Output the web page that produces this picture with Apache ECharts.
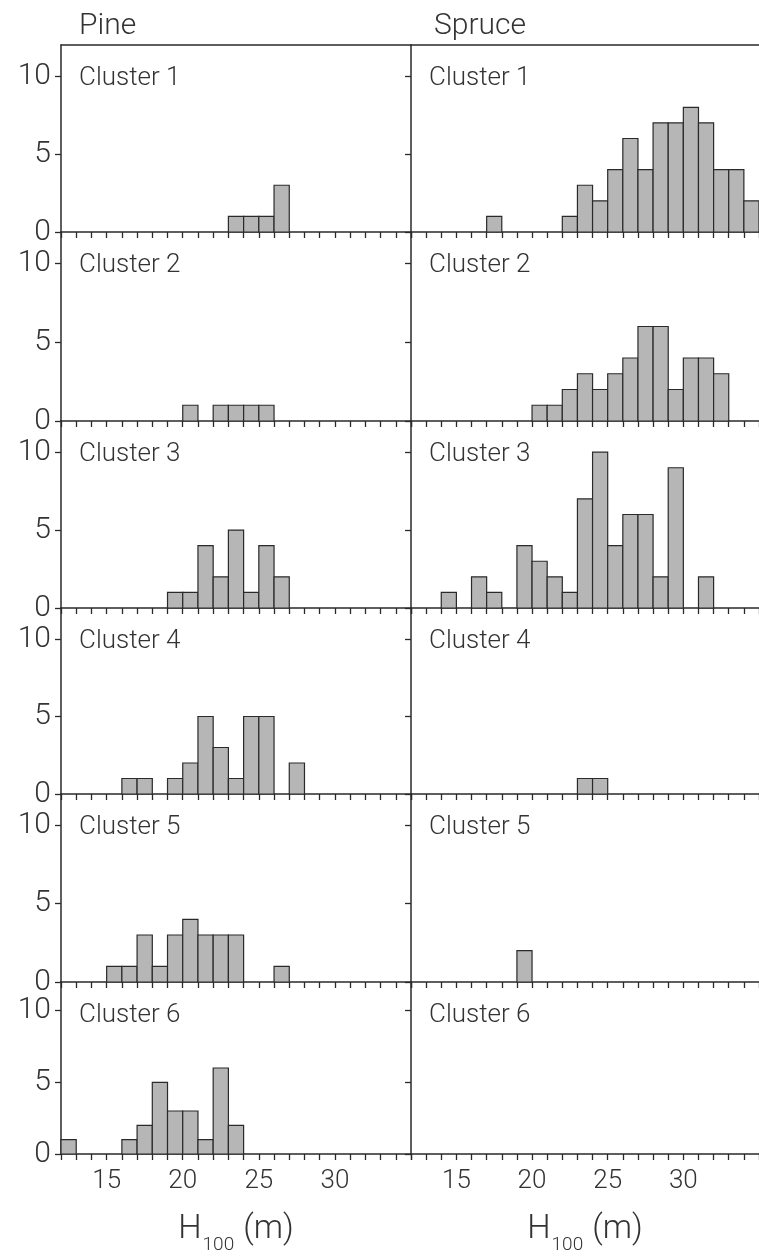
<!DOCTYPE html>
<html>
<head>
<meta charset="utf-8">
<script src="https://cdn.jsdelivr.net/npm/echarts@6/dist/echarts.min.js"></script>
<style>
  html, body { margin: 0; padding: 0; background: #ffffff; }
  #chart { width: 759px; height: 1256px; }
</style>
</head>
<body>
<div id="chart"></div>
<script>
// Height classes (lower edge of each 1 m bin, H100 in metres)
const binStarts = [12, 13, 14, 15, 16, 17, 18, 19, 20, 21, 22, 23, 24, 25, 26, 27, 28, 29, 30, 31, 32, 33, 34];

const speciesNames = ['Pine', 'Spruce'];
const clusterNames = ['Cluster 1', 'Cluster 2', 'Cluster 3', 'Cluster 4', 'Cluster 5', 'Cluster 6'];

// Number of stands per height class, pine
const pineCluster1 = [0, 0, 0, 0, 0, 0, 0, 0, 0, 0, 0, 1, 1, 1, 3, 0, 0, 0, 0, 0, 0, 0, 0];
const pineCluster2 = [0, 0, 0, 0, 0, 0, 0, 0, 1, 0, 1, 1, 1, 1, 0, 0, 0, 0, 0, 0, 0, 0, 0];
const pineCluster3 = [0, 0, 0, 0, 0, 0, 0, 1, 1, 4, 2, 5, 1, 4, 2, 0, 0, 0, 0, 0, 0, 0, 0];
const pineCluster4 = [0, 0, 0, 0, 1, 1, 0, 1, 2, 5, 3, 1, 5, 5, 0, 2, 0, 0, 0, 0, 0, 0, 0];
const pineCluster5 = [0, 0, 0, 1, 1, 3, 1, 3, 4, 3, 3, 3, 0, 0, 1, 0, 0, 0, 0, 0, 0, 0, 0];
const pineCluster6 = [1, 0, 0, 0, 1, 2, 5, 3, 3, 1, 6, 2, 0, 0, 0, 0, 0, 0, 0, 0, 0, 0, 0];

// Number of stands per height class, spruce
const spruceCluster1 = [0, 0, 0, 0, 0, 1, 0, 0, 0, 0, 1, 3, 2, 4, 6, 4, 7, 7, 8, 7, 4, 4, 2];
const spruceCluster2 = [0, 0, 0, 0, 0, 0, 0, 0, 1, 1, 2, 3, 2, 3, 4, 6, 6, 2, 4, 4, 3, 0, 0];
const spruceCluster3 = [0, 0, 1, 0, 2, 1, 0, 4, 3, 2, 1, 7, 10, 4, 6, 6, 2, 9, 0, 2, 0, 0, 0];
const spruceCluster4 = [0, 0, 0, 0, 0, 0, 0, 0, 0, 0, 0, 1, 1, 0, 0, 0, 0, 0, 0, 0, 0, 0, 0];
const spruceCluster5 = [0, 0, 0, 0, 0, 0, 0, 2, 0, 0, 0, 0, 0, 0, 0, 0, 0, 0, 0, 0, 0, 0, 0];
const spruceCluster6 = [0, 0, 0, 0, 0, 0, 0, 0, 0, 0, 0, 0, 0, 0, 0, 0, 0, 0, 0, 0, 0, 0, 0];

// Axis ticks
const xTickLabels = [15, 20, 25, 30];
const yTickValues = [0, 5, 10];
const xMin = 12, xMax = 35, yMax = 12;

const pineData = [pineCluster1, pineCluster2, pineCluster3, pineCluster4, pineCluster5, pineCluster6];
const spruceData = [spruceCluster1, spruceCluster2, spruceCluster3, spruceCluster4, spruceCluster5, spruceCluster6];
const columns = [pineData, spruceData];

// Panel layout
const colLeft = [61, 411];
const colWidth = 350;
const rowEdges = [45, 232, 421, 608, 794, 982, 1171];

const FONT = 'Roboto, "Liberation Sans", sans-serif';
const INK = '#2a2a2a';
const TEXT = '#333333';
const FILL = '#b6b6b6';

const grid = [], xAxis = [], yAxis = [], series = [], title = [];

speciesNames.forEach((name, c) => {
  title.push({
    text: name, left: c === 0 ? 79 : 434, top: 11, padding: 0,
    textStyle: { fontFamily: FONT, fontWeight: 300, fontSize: 30, color: TEXT }
  });
});

columns.forEach((clusters, c) => {
  clusters.forEach((counts, r) => {
    const gi = grid.length;
    grid.push({
      left: colLeft[c], top: rowEdges[r], width: colWidth,
      height: rowEdges[r + 1] - rowEdges[r], containLabel: false
    });
    const isBottom = r === clusters.length - 1;
    xAxis.push({
      type: 'value', gridIndex: gi, min: xMin, max: xMax, interval: 1,
      position: 'bottom',
      axisLine: { show: true, onZero: false, lineStyle: { color: INK, width: 1.5 } },
      axisTick: { show: true, inside: false, length: 6, lineStyle: { color: INK, width: 1.3 } },
      axisLabel: {
        show: isBottom, customValues: xTickLabels, margin: 14,
        fontFamily: FONT, fontWeight: 300, fontSize: 26, color: TEXT
      },
      splitLine: { show: false },
      name: isBottom ? '{h|H}{s|100}{h| (m)}' : '',
      nameLocation: 'middle', nameGap: 58,
      nameTextStyle: {
        rich: {
          h: { fontFamily: FONT, fontWeight: 300, fontSize: 33, color: TEXT, lineHeight: 36 },
          s: { fontFamily: FONT, fontWeight: 300, fontSize: 19, color: TEXT, lineHeight: 19, padding: [24, 1, 0, 1], verticalAlign: 'top' }
        }
      }
    });
    const xi = xAxis.length - 1;
    if (r === 0) {
      // top frame line along the first row
      xAxis.push({
        type: 'value', gridIndex: gi, min: xMin, max: xMax, position: 'top',
        axisLine: { show: true, onZero: false, lineStyle: { color: INK, width: 1.5 } },
        axisTick: { show: false }, axisLabel: { show: false }, splitLine: { show: false }
      });
    }
    yAxis.push({
      type: 'value', gridIndex: gi, min: 0, max: yMax, interval: 5,
      axisLine: { show: true, onZero: false, lineStyle: { color: INK, width: 1.5 } },
      axisTick: { show: true, inside: false, length: 6, customValues: yTickValues, lineStyle: { color: INK, width: 1.3 } },
      axisLabel: {
        show: c === 0, customValues: yTickValues, margin: 10,
        fontFamily: FONT, fontWeight: 300, fontSize: 30, color: TEXT
      },
      splitLine: { show: false }
    });
    const yi = yAxis.length - 1;

    title.push({
      text: clusterNames[r], left: colLeft[c] + 18, top: rowEdges[r] + 20, padding: 0,
      textStyle: { fontFamily: FONT, fontWeight: 300, fontSize: 26, color: TEXT }
    });

    series.push({
      type: 'custom', xAxisIndex: xi, yAxisIndex: yi, clip: false,
      data: binStarts.map((b, i) => [b, counts[i]]).filter(d => d[1] > 0),
      renderItem: function (params, api) {
        const x0 = api.value(0), v = api.value(1);
        const p0 = api.coord([x0, 0]);
        const p1 = api.coord([x0 + 1, v]);
        return {
          type: 'rect',
          shape: { x: p0[0], y: p1[1], width: p1[0] - p0[0], height: p0[1] - p1[1] },
          style: { fill: FILL, stroke: INK, lineWidth: 1.2 }
        };
      }
    });
  });
});

const chart = echarts.init(document.getElementById('chart'), null, { renderer: 'canvas' });
chart.setOption({
  backgroundColor: '#ffffff',
  animation: false,
  title: title,
  grid: grid,
  xAxis: xAxis,
  yAxis: yAxis,
  series: series
});
</script>
</body>
</html>
